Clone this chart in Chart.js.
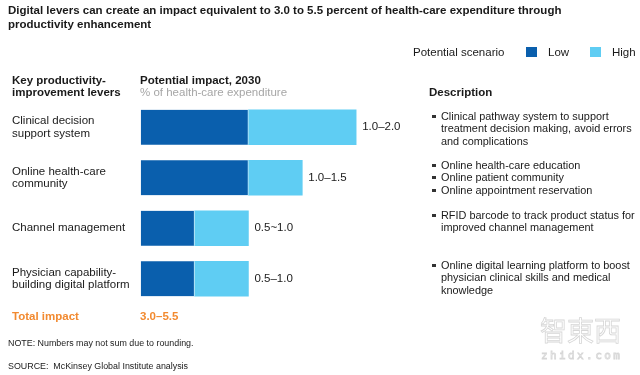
<!DOCTYPE html>
<html>
<head>
<meta charset="utf-8">
<script src="https://cdn.jsdelivr.net/npm/chart.js@4"></script>
<style>
  html, body { margin: 0; padding: 0; background: #fff; }
  #wrap { position: relative; width: 640px; height: 375px; overflow: hidden;
    font-family: "Liberation Sans", Arial, sans-serif; color: #1a1a1a; }
  #wrap canvas { position: absolute; left: 0; top: 0; }
  .t { position: absolute; white-space: nowrap; }
  .title { left: 8px; top: 4px; font-weight: bold; font-size: 11.5px; line-height: 13.5px; }
  .hdr { font-weight: bold; font-size: 11.5px; line-height: 12px; }
  .sub { color: #a6a6a6; font-size: 11.5px; line-height: 12px; }
  .body { font-size: 11.5px; line-height: 12.3px; }
  .desc { font-size: 10.9px; line-height: 12.3px; }
  .sw { position: absolute; width: 11px; height: 10px; }
  .bul { position: absolute; width: 3.5px; height: 3.5px; background: #333; }
  .small { font-size: 8.9px; line-height: 10px; }
  .orange { color: #f28a30; font-weight: bold; font-size: 11.5px; line-height: 12px; }
  .wm { color: #fff; -webkit-text-stroke: 0.8px #d6d6d6; font-family: "Noto Sans CJK SC", sans-serif; }
</style>
</head>
<body>
<div id="wrap">
  <canvas id="chart" width="640" height="375"></canvas>

  <div class="t title">Digital levers can create an impact equivalent to 3.0 to 5.5 percent of health-care expenditure through<br>productivity enhancement</div>

  <div class="t body" style="left:413px; top:46px;">Potential scenario</div>
  <div class="sw" style="left:526px; top:47px; background:#0a5fad;"></div>
  <div class="t body" style="left:548px; top:46px;">Low</div>
  <div class="sw" style="left:590px; top:47px; background:#5fcdf3;"></div>
  <div class="t body" style="left:612px; top:46px;">High</div>

  <div class="t hdr" style="left:12px; top:74px;">Key productivity-<br>improvement levers</div>
  <div class="t hdr" style="left:140px; top:74px;">Potential impact, 2030</div>
  <div class="t sub" style="left:140px; top:86px;">% of health-care expenditure</div>

  <div class="t hdr" style="left:429px; top:86px;">Description</div>
  <div id="desc"></div>

  <div class="t orange" style="left:12px; top:310px;">Total impact</div>
  <div class="t orange" style="left:140px; top:310px;">3.0–5.5</div>

  <div class="t small" style="left:8px; top:338px;">NOTE: Numbers may not sum due to rounding.</div>
  <div class="t small" style="left:8px; top:361px;">SOURCE:&nbsp; McKinsey Global Institute analysis</div>

  <div class="t wm" style="left:540px; top:314px; font-size:27px; line-height:32px;">智東西</div>
  <div class="t wm" style="left:541px; top:349px; font-size:11px; line-height:13px; letter-spacing:2.4px; font-family:'DejaVu Sans Mono', monospace;">zhidx.com</div>
</div>

<script>
// levers, with line breaks as in the original
const levers = [
  ["Clinical decision", "support system"],
  ["Online health-care", "community"],
  ["Channel management"],
  ["Physician capability-", "building digital platform"]
];
// % of health-care expenditure
const lowValues = [1.0, 1.0, 0.5, 0.5];
const highValues = [2.0, 1.5, 1.0, 1.0];
const rangeLabels = ["1.0–2.0", "1.0–1.5", "0.5~1.0", "0.5–1.0"];

const descriptions = [
  { top: 110, lines: ["Clinical pathway system to support", "treatment decision making, avoid errors", "and complications"] },
  { top: 159, lines: ["Online health-care education"] },
  { top: 171, lines: ["Online patient community"] },
  { top: 184, lines: ["Online appointment reservation"] },
  { top: 209, lines: ["RFID barcode to track product status for", "improved channel management"] },
  { top: 259, lines: ["Online digital learning platform to boost", "physician clinical skills and medical", "knowledge"] }
];

const desc = document.getElementById("desc");
descriptions.forEach(d => {
  const b = document.createElement("div");
  b.className = "bul";
  b.style.left = "432px";
  b.style.top = (d.top + 4.5) + "px";
  desc.appendChild(b);
  const t = document.createElement("div");
  t.className = "t desc";
  t.style.left = "441px";
  t.style.top = d.top + "px";
  t.innerHTML = d.lines.join("<br>");
  desc.appendChild(t);
});

const rangeLabelPlugin = {
  id: "rangeLabels",
  afterDatasetsDraw(chart) {
    const ctx = chart.ctx;
    const meta = chart.getDatasetMeta(1);
    ctx.save();
    ctx.font = "11.5px 'Liberation Sans', Arial, sans-serif";
    ctx.fillStyle = "#1a1a1a";
    ctx.textAlign = "left";
    ctx.textBaseline = "middle";
    meta.data.forEach((bar, i) => {
      ctx.fillText(rangeLabels[i], bar.x + 6, bar.y);
    });
    ctx.restore();
  }
};

new Chart(document.getElementById("chart"), {
  type: "bar",
  data: {
    labels: levers,
    datasets: [
      {
        label: "Low",
        data: lowValues,
        backgroundColor: "#0a5fad",
        borderColor: "#b9e4f8",
        borderWidth: { right: 1 },
        borderSkipped: false
      },
      {
        label: "High",
        data: highValues.map((h, i) => h - lowValues[i]),
        backgroundColor: "#5fcdf3",
        borderWidth: 0
      }
    ]
  },
  options: {
    indexAxis: "y",
    responsive: false,
    animation: false,
    events: [],
    barThickness: 35,
    layout: { padding: { left: 12, right: 230, top: 102, bottom: 71 } },
    plugins: { legend: { display: false }, tooltip: { enabled: false }, title: { display: false } },
    scales: {
      x: { stacked: true, display: false, min: 0, max: 2.5 },
      y: {
        stacked: true,
        grid: { display: false },
        border: { display: false },
        ticks: {
          crossAlign: "far",
          color: "#1a1a1a",
          font: { family: "'Liberation Sans', Arial, sans-serif", size: 11.5, lineHeight: 1.1 }
        },
        afterFit(scale) { scale.width = 128.7; }
      }
    }
  },
  plugins: [rangeLabelPlugin]
});
</script>
</body>
</html>
